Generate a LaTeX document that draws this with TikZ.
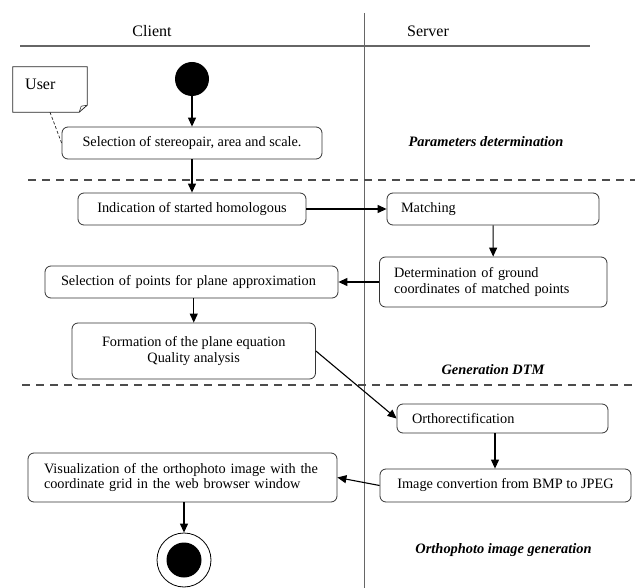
\documentclass[tikz,border=0pt]{standalone}
\usepackage{fontspec}
\setmainfont{Liberation Serif}
\usetikzlibrary{arrows.meta}
\newcommand\bodyf{\fontsize{14.3}{15.5}\selectfont}
\newcommand\headf{\fontsize{16}{18}\selectfont}
\newcommand\phasef{\fontsize{14.4}{16}\selectfont\bfseries\itshape}
\begin{document}
\begin{tikzpicture}[x=1pt,y=-1pt,
  box/.style={draw=black!80, line width=0.8pt, rounded corners=6pt, font=\bodyf, inner sep=0pt},
  lbox/.style={box, align=left},
  arr/.style={line width=1.1pt, -{Triangle[length=9pt,width=8pt]}},
  lane/.style={draw=black!60, line width=1.2pt},
  phase/.style={draw=black!70, line width=2pt, dash pattern=on 8pt off 6pt},
  phasetxt/.style={font=\phasef, inner sep=0pt},
  head/.style={font=\headf, inner sep=0pt}]
\useasboundingbox (0,0) rectangle (635,588);
% swimlanes
\draw[lane] (364.5,13) -- (364.5,588);
\draw[lane] (20,46) -- (590,46);
\node[head] (client) at (152,31) {Client};
\node[head] (server) at (428,31) {Server};
% phase separators
\draw[phase] (28,180) -- (635,180);
\draw[phase] (22,385) -- (635,385);
% phase names
\node[phasetxt] (p1) at (486,142) {Parameters determination};
\node[phasetxt] (p2) at (493,370) {Generation DTM};
\node[phasetxt] (p3) at (503.5,550) {Orthophoto image generation};
% note
\node[minimum width=74pt, minimum height=45pt, inner sep=0pt] (note) at (50,89.5) {};
\draw[draw=black!85, line width=0.8pt] (note.north west) -- (note.north east) -- ([yshift=7pt]note.south east) -- ([xshift=-8pt]note.south east) -- (note.south west) -- cycle;
\draw[draw=black!85, line width=0.6pt] ([xshift=-8pt]note.south east) -- ([xshift=-6pt,yshift=6pt]note.south east) -- ([yshift=7pt]note.south east);
\node[head, anchor=west] (user) at (25,84) {User};
% start
\node[circle, fill=black, minimum size=34pt, inner sep=0pt] (start) at (192,79) {};
% activities
\node[box, minimum width=260pt, minimum height=32pt] (sel) at (192,143) {Selection of stereopair, area and scale.};
\node[box, minimum width=228pt, minimum height=32pt] (ind) at (192,209) {Indication of started homologous};
\node[lbox, minimum width=212pt, minimum height=32pt, text width=184pt, inner xsep=14pt] (mat) at (493,209) {Matching};
\node[lbox, minimum width=227.5pt, minimum height=50pt, text width=198.5pt, inner xsep=14.5pt] (det) at (493.25,282) {Determination of ground\\coordinates of matched points};
\node[lbox, minimum width=293pt, minimum height=32pt, text width=261pt, inner xsep=16pt] (pts) at (191.5,282) {Selection of points for plane approximation};
\node[box, align=center, minimum width=243.5pt, minimum height=56pt] (form) at (193.75,351) {Formation of the plane equation\\Quality analysis};
\node[lbox, minimum width=211pt, minimum height=29pt, text width=181pt, inner xsep=15pt] (orth) at (502.5,418.5) {Orthorectification};
\node[box, minimum width=251pt, minimum height=33pt] (conv) at (505.5,485.5) {Image convertion from BMP to JPEG};
\node[lbox, minimum width=309pt, minimum height=49pt, text width=277pt, inner xsep=16pt] (vis) at (182.5,477.5) {Visualization of the orthophoto image with the\\coordinate grid in the web browser window};
% end
\node[circle, draw=black, line width=0.8pt, minimum size=54pt, inner sep=0pt] (end) at (184,560) {};
\node[circle, fill=black, minimum size=35pt, inner sep=0pt] (endin) at (end) {};
% connectors
\draw[draw=black!85, line width=0.7pt, dash pattern=on 3pt off 2pt] (note.south) -- (sel.west);
\draw[arr] (start) -- (sel);
\draw[arr] (sel) -- (ind);
\draw[arr] (ind) -- (mat);
\draw[arr] (mat) -- (det);
\draw[arr] (det) -- (pts);
\draw[arr] (pts.south -| form.north) -- (form);
\draw[arr] (form.east) -- (orth.west);
\draw[arr] ([xshift=-7.5pt]orth.south) -- ([xshift=-7.5pt]orth.south |- conv.north);
\draw[arr] (conv.west) -- (vis.east);
\draw[arr] (vis.south -| end) -- (end);
\end{tikzpicture}
\end{document}
